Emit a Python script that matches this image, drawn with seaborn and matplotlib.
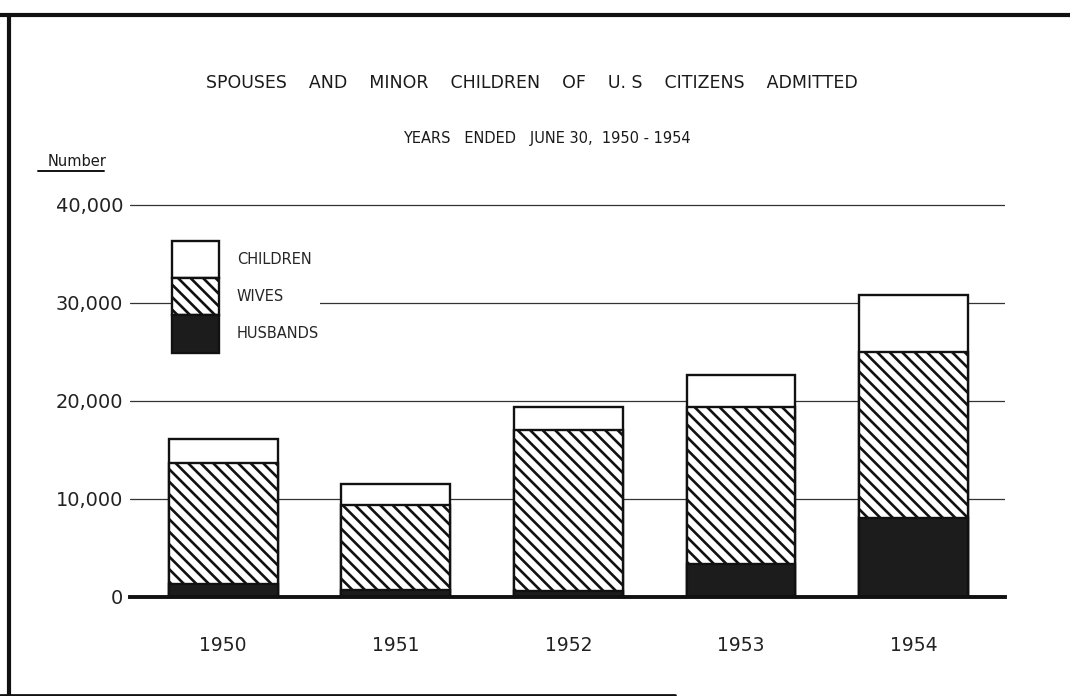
import numpy as np
import pandas as pd
import matplotlib
matplotlib.use("Agg")
import matplotlib.pyplot as plt
from matplotlib.patches import Patch
from matplotlib.lines import Line2D
import seaborn as sns

# valori
years = ["1950", "1951", "1952", "1953", "1954"]
husbands = [1300, 700, 600, 3400, 8100]
wives = [12400, 8700, 16400, 16000, 16900]
children = [2400, 2100, 2400, 3200, 5800]

df = pd.DataFrame({"year": years, "husbands": husbands,
                   "wives": wives, "children": children})
df["wives_top"] = df["husbands"] + df["wives"]
df["total"] = df["wives_top"] + df["children"]

# dpi 75 ca sa iasa hasura ~12.5 px, restul marimilor scalate cu S
DPI = 75
S = 100 / DPI
W, H = 1070, 696

sns.set_style("white")
plt.rcParams["font.family"] = ["DejaVu Sans"]
plt.rcParams["hatch.linewidth"] = 1.9 * S

fig = plt.figure(figsize=(W / DPI, H / DPI), dpi=DPI)
ax = fig.add_axes([130 / W, 99 / H, 875 / W, 397 / H])

ink = "#111111"
dark = "#1c1c1c"
bw = 0.63
elw = 1.7 * S
hatch = "\\\\"

# stivuire: total (copii) -> sotii -> soti
sns.barplot(data=df, x="year", y="total", color="white", edgecolor=ink,
            linewidth=elw, width=bw, saturation=1, ax=ax, zorder=3)
sns.barplot(data=df, x="year", y="wives_top", color="white", edgecolor=ink,
            linewidth=elw, width=bw, saturation=1, hatch=hatch, ax=ax, zorder=4)
sns.barplot(data=df, x="year", y="husbands", color=dark, edgecolor=ink,
            linewidth=elw, width=bw, saturation=1, ax=ax, zorder=5)

ax.set_xlim(-0.54, 4.53)
ax.set_ylim(0, 40500)
ax.set_yticks([0, 10000, 20000, 30000, 40000])
ax.set_yticklabels(["0", "10,000", "20,000", "30,000", "40,000"])
ax.yaxis.grid(True, color="#333333", linewidth=0.9 * S, zorder=0)
ax.set_axisbelow(True)
ax.tick_params(axis="y", length=0, pad=5 * S, labelsize=14 * S, labelcolor="#222222")
ax.tick_params(axis="x", length=0, pad=28 * S, labelsize=13.5 * S, labelcolor="#222222")
ax.set_xlabel("")
ax.set_ylabel("")
for s in ["top", "right", "left"]:
    ax.spines[s].set_visible(False)
ax.spines["bottom"].set_linewidth(2.8 * S)
ax.spines["bottom"].set_color(ink)
ax.spines["bottom"].set_zorder(6)

# legenda ca bloc stivuit
handles = [
    Patch(facecolor="white", edgecolor=ink, linewidth=elw, label="CHILDREN"),
    Patch(facecolor="white", edgecolor=ink, linewidth=elw, hatch=hatch, label="WIVES"),
    Patch(facecolor=dark, edgecolor=ink, linewidth=elw, label="HUSBANDS"),
]
leg_fs = 10.5 * S
leg = fig.legend(handles=handles, loc="upper left",
                 bbox_to_anchor=(172 / W, 1 - 241 / H),
                 frameon=True, facecolor="white", edgecolor="white", framealpha=1,
                 fontsize=leg_fs, handlelength=3.25, handleheight=3.55,
                 labelspacing=0, handletextpad=1.2, borderpad=0.0,
                 borderaxespad=0)
leg.set_zorder(10)

# titluri
fig.text(0.497, 1 - 83 / H,
         "SPOUSES    AND    MINOR    CHILDREN    OF    U. S    CITIZENS    ADMITTED",
         ha="center", va="center", fontsize=12.5 * S, color="#1a1a1a")
fig.text(0.511, 1 - 138 / H, "YEARS   ENDED   JUNE 30,  1950 - 1954",
         ha="center", va="center", fontsize=10.5 * S, color="#1a1a1a")

fig.text(48 / W, 1 - 162 / H, "Number", ha="left", va="center",
         fontsize=10.5 * S, color="#1a1a1a")
fig.add_artist(Line2D([38 / W, 104 / W], [1 - 171 / H, 1 - 171 / H],
                      color=ink, linewidth=1.4 * S))

# chenarul scanat
fig.add_artist(Line2D([0, 1], [1 - 15 / H, 1 - 15 / H], color=ink, linewidth=3 * S))
fig.add_artist(Line2D([9 / W, 9 / W], [0, 1 - 15 / H], color=ink, linewidth=3 * S))
fig.add_artist(Line2D([0, 675 / W], [1 / H, 1 / H], color=ink, linewidth=2 * S))

fig.savefig("out.png", dpi=DPI, facecolor="white")
